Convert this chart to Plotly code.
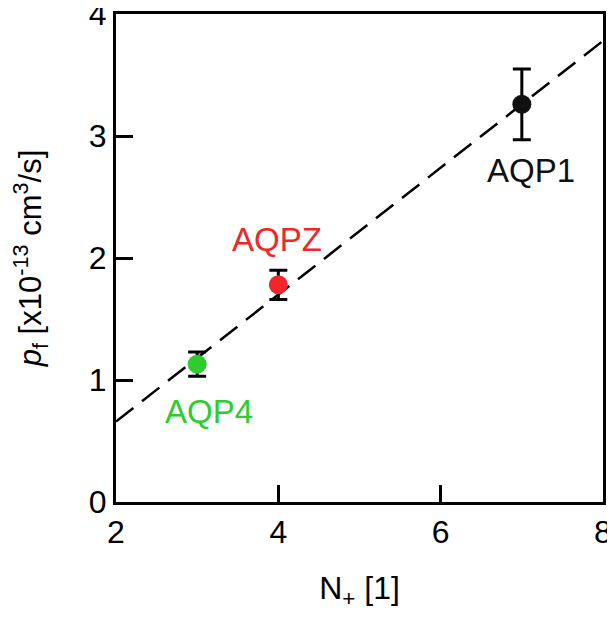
import plotly.graph_objects as go

# data
names = ["AQP4", "AQPZ", "AQP1"]
n_plus = [3, 4, 7]
pf = [1.13, 1.78, 3.26]
pf_err = [0.10, 0.12, 0.29]
colors = ["#2ecc2e", "#f0262b", "#111111"]

fit_x = [2, 8]
fit_y = [0.66, 3.78]

label_x = [3.15, 3.98, 7.11]
label_y = [0.74, 2.15, 2.72]

FONT = "Arial, Liberation Sans, sans-serif"

fig = go.Figure()
fig.add_trace(go.Scatter(x=fit_x, y=fit_y, mode="lines",
                         line=dict(color="black", width=2.5, dash="22px,11px"),
                         showlegend=False, hoverinfo="skip"))
for i in range(len(names)):
    fig.add_trace(go.Scatter(
        x=[n_plus[i]], y=[pf[i]], mode="markers",
        marker=dict(size=19, color=colors[i]),
        error_y=dict(type="data", array=[pf_err[i]], color="black", thickness=3, width=9),
        showlegend=False, name=names[i]))
    fig.add_annotation(x=label_x[i], y=label_y[i], text=names[i], showarrow=False,
                       font=dict(family=FONT, size=33, color=colors[i]))

axis_common = dict(showline=True, linewidth=3, linecolor="black", mirror=True,
                   ticks="inside", ticklen=17, tickwidth=3, tickcolor="black",
                   showgrid=False, zeroline=False, automargin=False,
                   ticklabeloverflow="allow",
                   tickfont=dict(family=FONT, size=32, color="black"))

fig.update_xaxes(range=[2, 8], tickvals=[2, 4, 6, 8],
                 title=dict(text="N<sub>+</sub> [1]", font=dict(family=FONT, size=32, color="black"), standoff=36),
                 **axis_common)
fig.update_yaxes(range=[0, 4], tickvals=[0, 1, 2, 3, 4],
                 title=dict(text="<i>p</i><sub>f</sub> [x10<sup>-13</sup> cm<sup>3</sup>/s]",
                            font=dict(family=FONT, size=31, color="black"), standoff=40),
                 **axis_common)

# page body adds an 8px margin; keep the figure small enough that the page never scrolls
fig.update_layout(width=607, height=603, margin=dict(l=108, r=12, t=6, b=109, autoexpand=False),
                  plot_bgcolor="white", paper_bgcolor="white")

fig.write_html("out.html")
